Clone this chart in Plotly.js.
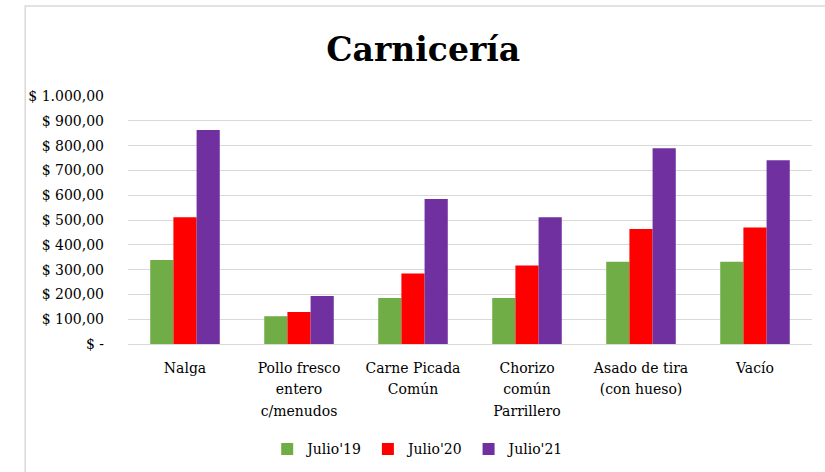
<!DOCTYPE html>
<html>
<head>
<meta charset="utf-8">
<script src="https://cdn.plot.ly/plotly-3.0.1.min.js"></script>
<style>html,body{margin:0;padding:0;background:#fff}#chart{width:825px;height:472px}</style>
</head>
<body>
<div id="chart"></div>
<script>
var categories = ["Nalga", "Pollo fresco<br>entero<br>c/menudos", "Carne Picada<br>Común", "Chorizo<br>común<br>Parrillero", "Asado de tira<br>(con hueso)", "Vacío"];
var seriesNames = ["Julio'19", "Julio'20", "Julio'21"];
var julio19 = [339, 112, 185, 185, 332, 332];
var julio20 = [511, 129, 284, 317, 464, 470];
var julio21 = [863, 194, 585, 511, 789, 741];
var tickVals = [0, 100, 200, 300, 400, 500, 600, 700, 800, 900, 1000];
var tickText = ["$ -", "$ 100,00", "$ 200,00", "$ 300,00", "$ 400,00", "$ 500,00", "$ 600,00", "$ 700,00", "$ 800,00", "$ 900,00", "$ 1.000,00"];
var colors = ["#70AD47", "#FF0000", "#7030A0"];

var font = "DejaVu Serif, serif";
var catText = categories.map(function(c){
  return c.split("<br>").map(function(s){ return '<span style="font-size:14px">' + s + '</span>'; }).join("<br>");
});
var data = [julio19, julio20, julio21].map(function(v, i){
  return {type: "bar", x: categories, y: v, name: seriesNames[i],
    marker: {color: colors[i], line: {width: 0}}, hoverinfo: "none"};
});
var layout = {
  width: 825, height: 472,
  margin: {l: 128, r: 13, t: 96, b: 128, autoexpand: false},
  paper_bgcolor: "#fff", plot_bgcolor: "#fff",
  title: {text: "<b>Carnicería</b>", x: 0.513, xanchor: "center", y: 0.895, yanchor: "middle",
    font: {family: "DejaVu Serif, serif", size: 33, color: "#000"}},
  barmode: "group", bargap: 0.39, bargroupgap: 0,
  font: {family: font, size: 14, color: "#000"},
  xaxis: {showgrid: false, zeroline: false, showline: true, linecolor: "#d9d9d9", linewidth: 1,
    tickmode: "array", tickvals: categories, ticktext: catText,
    ticks: "", tickfont: {family: font, size: 16.5, color: "#000"}, ticklabelstandoff: 8, fixedrange: true},
  yaxis: {range: [0, 1000], tickvals: tickVals, ticktext: tickText, showgrid: true, gridcolor: "#d9d9d9",
    gridwidth: 1, zeroline: false, showline: false, ticks: "", ticklabelstandoff: 23,
    tickfont: {family: font, size: 14, color: "#000"}, fixedrange: true},
  legend: {orientation: "h", x: 0.425, xanchor: "center", y: -0.425, yanchor: "middle",
    font: {family: font, size: 14, color: "#000"}, itemwidth: 30, traceorder: "normal"},
  shapes: [{type: "rect", xref: "paper", yref: "paper", x0: -0.1503, x1: 1.1, y0: -0.6, y1: 1.3624,
    line: {color: "#d9d9d9", width: 1.5}}]
};
Plotly.newPlot("chart", data, layout, {displayModeBar: false, staticPlot: true});
</script>
</body>
</html>
